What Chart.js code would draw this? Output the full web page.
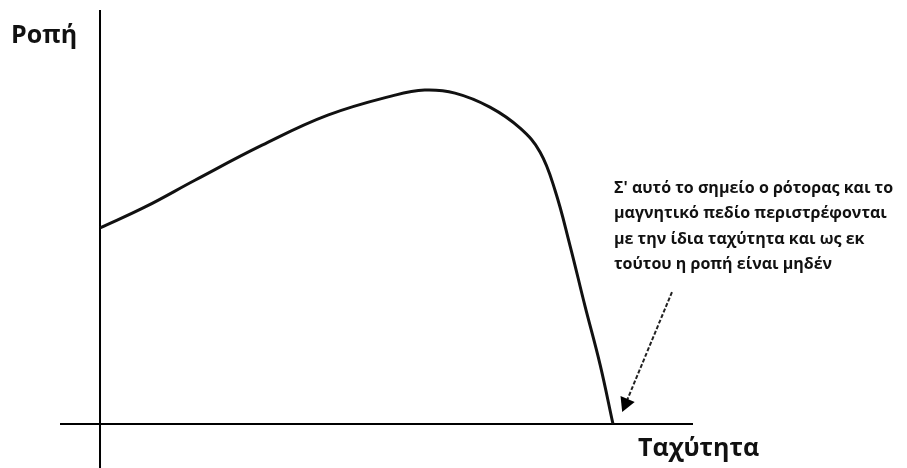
<!DOCTYPE html>
<html lang="el">
<head>
<meta charset="UTF-8">
<title>Ροπή - Ταχύτητα</title>
<script src="https://cdn.jsdelivr.net/npm/chart.js@4.4.1/dist/chart.umd.min.js"></script>
<style>
    html, body { margin: 0; padding: 0; background: #fff; }
    #chart-box { width: 907px; height: 468px; }
</style>
</head>
<body>
<div id="chart-box"><canvas id="torque-chart"></canvas></div>
<script>
// Torque / speed curve (relative units, synchronous speed = 100, peak torque = 100)
const speedValues = [0, 8.8, 18.5, 31.6, 44.4, 57.5, 63.3, 69.2, 76, 81.9, 85.8, 88.7, 91.6, 94.5, 97.5, 100];
const torqueValues = [58.7, 65, 73, 83.5, 92.5, 98.5, 100, 99.1, 94.9, 88.6, 81.4, 70, 53.6, 35.6, 17.7, 0];

// Axis titles and note
const yAxisTitle = 'Ροπή';
const xAxisTitle = 'Ταχύτητα';
const noteLines = [
    'Σ\' αυτό το σημείο ο ρότορας και το',
    'μαγνητικό πεδίο περιστρέφονται',
    'με την ίδια ταχύτητα και ως εκ',
    'τούτου η ροπή είναι μηδέν'
];

// Arrow from the note down to the zero-torque point (data units)
const arrowFrom = { x: 111.5, y: 39.5 };
const arrowTo = { x: 101.8, y: 3.6 };

const points = speedValues.map((s, i) => ({ x: s, y: torqueValues[i] }));

// Draws the two axis lines through the origin, the titles, note and arrow
const sketchPlugin = {
    id: 'sketch',
    beforeDatasetsDraw(chart) {
        const { ctx, chartArea, scales } = chart;
        const x0 = scales.x.getPixelForValue(0);
        const y0 = scales.y.getPixelForValue(0);
        ctx.save();
        ctx.strokeStyle = '#000';
        ctx.lineWidth = 2;
        ctx.beginPath();
        ctx.moveTo(chartArea.left, y0);
        ctx.lineTo(chartArea.right, y0);
        ctx.moveTo(x0, chartArea.top);
        ctx.lineTo(x0, chartArea.bottom);
        ctx.stroke();
        ctx.restore();
    },
    afterDraw(chart) {
        const { ctx, scales } = chart;
        ctx.save();
        ctx.fillStyle = '#111';
        ctx.textBaseline = 'alphabetic';

        // Axis titles
        ctx.font = 'bold 25px "Open Sans"';
        ctx.fillText(yAxisTitle, 11, 43);
        ctx.fillText(xAxisTitle, 638, 456);

        // Note
        ctx.font = 'bold 16px "Open Sans"';
        ctx.textBaseline = 'middle';
        noteLines.forEach((line, i) => {
            ctx.fillText(line, 614, 188 + i * 25.5);
        });

        // Arrow
        const ax = scales.x.getPixelForValue(arrowFrom.x);
        const ay = scales.y.getPixelForValue(arrowFrom.y);
        const bx = scales.x.getPixelForValue(arrowTo.x);
        const by = scales.y.getPixelForValue(arrowTo.y);
        const ang = Math.atan2(by - ay, bx - ax);
        const head = 16;
        ctx.strokeStyle = '#222';
        ctx.lineWidth = 2;
        ctx.setLineDash([4, 2]);
        ctx.beginPath();
        ctx.moveTo(ax, ay);
        ctx.lineTo(bx - Math.cos(ang) * head * 0.6, by - Math.sin(ang) * head * 0.6);
        ctx.stroke();
        ctx.setLineDash([]);
        ctx.fillStyle = '#000';
        ctx.beginPath();
        ctx.moveTo(bx, by);
        ctx.lineTo(bx - head * Math.cos(ang - 0.5), by - head * Math.sin(ang - 0.5));
        ctx.lineTo(bx - head * Math.cos(ang + 0.5), by - head * Math.sin(ang + 0.5));
        ctx.closePath();
        ctx.fill();
        ctx.restore();
    }
};

new Chart(document.getElementById('torque-chart'), {
    type: 'scatter',
    data: {
        datasets: [{
            data: points,
            showLine: true,
            borderColor: '#111',
            borderWidth: 3,
            pointRadius: 0,
            tension: 0.4,
            fill: false
        }]
    },
    options: {
        responsive: true,
        maintainAspectRatio: false,
        animation: false,
        layout: { padding: { left: 60, right: 214, top: 10, bottom: 0 } },
        scales: {
            x: { type: 'linear', min: -7.8, max: 115.6, display: false },
            y: { type: 'linear', min: -13.2, max: 124, display: false }
        },
        plugins: {
            legend: { display: false },
            tooltip: { enabled: false }
        }
    },
    plugins: [sketchPlugin]
});
</script>
</body>
</html>
